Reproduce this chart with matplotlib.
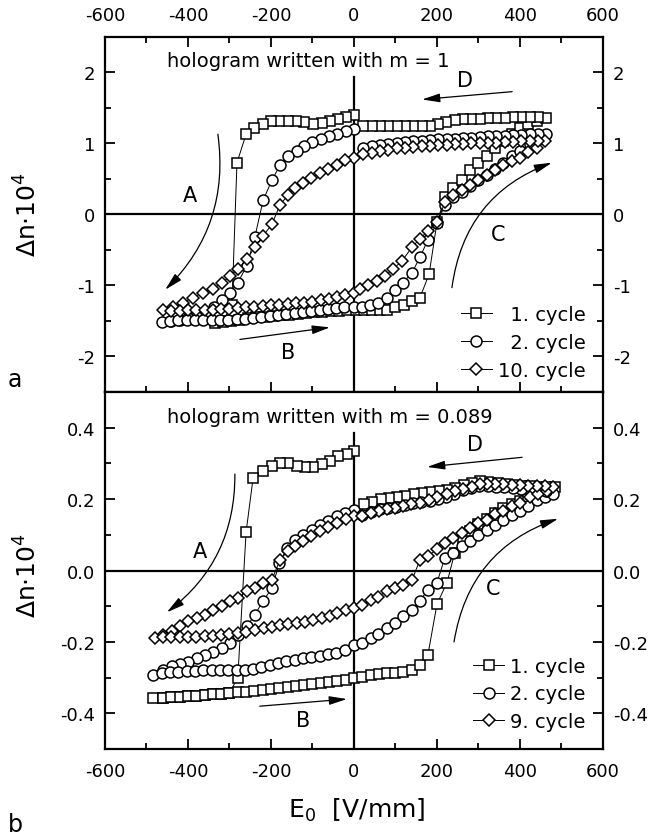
import numpy as np
import matplotlib
matplotlib.use('Agg')
from matplotlib import pyplot as plt
from matplotlib.ticker import MultipleLocator, FormatStrFormatter

plt.rcParams['font.family'] = ['DejaVu Sans']
plt.rcParams['mathtext.fontset'] = 'dejavusans'
plt.rcParams['axes.unicode_minus'] = False

# ---- panel a: hologram written with m = 1 ----
top_e1 = [0, -19, -38, -58, -77, -99, -120, -140, -160, -180, -200, -220, -240, -260, -282,
          -294, -316, -336,
          -316, -296, -276, -256, -236, -216, -196, -176, -156, -136, -116, -96, -76, -56, -36, -16,
          4, 24, 44, 62, 80, 99, 120, 140, 159,
          181, 200, 219, 239, 260, 280, 299, 320, 340, 360, 380, 400, 420, 441, 462,
          443, 423, 403, 383, 363, 343, 323, 303, 283, 263, 243, 222, 203, 183, 163, 143, 123, 103, 83, 63, 43, 22]
top_d1 = [1.40, 1.38, 1.35, 1.31, 1.29, 1.28, 1.30, 1.32, 1.32, 1.32, 1.31, 1.28, 1.22, 1.13, 0.73,
          -1.27, -1.50, -1.53,
          -1.52, -1.50, -1.48, -1.46, -1.45, -1.44, -1.43, -1.42, -1.41, -1.40, -1.39, -1.38, -1.37, -1.36, -1.36, -1.35,
          -1.35, -1.35, -1.34, -1.34, -1.34, -1.31, -1.27, -1.22, -1.17,
          -0.84, -0.11, 0.24, 0.38, 0.49, 0.62, 0.73, 0.83, 0.94, 1.04, 1.14, 1.22, 1.28, 1.32, 1.36,
          1.37, 1.37, 1.37, 1.37, 1.36, 1.36, 1.36, 1.35, 1.35, 1.34, 1.33, 1.30, 1.27, 1.25, 1.25, 1.25, 1.25, 1.24, 1.24, 1.24, 1.24, 1.24]

top_e2 = [0, -20, -40, -60, -80, -100, -120, -137, -159, -178, -198, -219, -239, -258, -280, -299, -318, -338, -360, -380, -400, -420, -440, -463,
          -443, -423, -403, -383, -363, -343, -323, -303, -283, -263, -243, -223, -203, -183, -163, -143, -123, -103, -83, -63, -43, -23,
          0, 20, 39, 58, 80, 99, 118, 140, 159, 178, 200,
          219, 239, 260, 280, 299, 320, 340, 359, 381, 400, 424, 443, 463,
          443, 423, 403, 383, 363, 343, 323, 303, 283, 263, 243, 223, 203, 183, 163, 143, 123, 103, 83, 63, 43, 22]
top_d2 = [1.20, 1.17, 1.14, 1.10, 1.06, 1.02, 0.96, 0.90, 0.83, 0.70, 0.48, 0.20, -0.32, -0.72, -0.96, -1.10, -1.21, -1.30, -1.38, -1.43, -1.46, -1.49, -1.50, -1.52,
          -1.50, -1.49, -1.49, -1.48, -1.48, -1.48, -1.48, -1.48, -1.47, -1.47, -1.46, -1.45, -1.43, -1.42, -1.40, -1.39, -1.37, -1.36, -1.34, -1.33, -1.32, -1.31,
          -1.31, -1.30, -1.28, -1.24, -1.17, -1.07, -0.96, -0.82, -0.60, -0.36, -0.12,
          0.13, 0.24, 0.31, 0.40, 0.48, 0.56, 0.64, 0.73, 0.83, 0.90, 0.99, 1.06, 1.13,
          1.14, 1.13, 1.12, 1.12, 1.11, 1.10, 1.10, 1.09, 1.08, 1.08, 1.07, 1.06, 1.06, 1.05, 1.04, 1.03, 1.02, 1.00, 0.99, 0.98, 0.96, 0.94]

top_e3 = [0, -22, -41, -62, -82, -103, -123, -141, -159, -178, -198, -219, -239, -258, -280, -299, -318, -340, -364, -388, -412, -436, -460,
          -440, -420, -400, -380, -360, -340, -320, -300, -280, -260, -240, -220, -200, -180, -160, -140, -120, -100, -80, -60, -41, -22,
          0, 14, 34, 55, 75, 94, 116, 140, 159, 178, 200,
          219, 239, 260, 280, 299, 320, 340, 359, 380, 400, 420, 441, 460,
          443, 423, 403, 383, 363, 343, 323, 303, 283, 263, 243, 223, 203, 183, 163, 143, 123, 103, 83, 63, 43, 22]
top_d3 = [0.80, 0.77, 0.70, 0.64, 0.59, 0.52, 0.45, 0.37, 0.27, 0.14, -0.14, -0.30, -0.46, -0.63, -0.77, -0.87, -0.96, -1.05, -1.10, -1.17, -1.24, -1.30, -1.35,
          -1.36, -1.36, -1.35, -1.35, -1.34, -1.34, -1.33, -1.33, -1.32, -1.31, -1.30, -1.29, -1.28, -1.27, -1.26, -1.25, -1.24, -1.23, -1.21, -1.19, -1.16, -1.14,
          -1.10, -1.05, -1.00, -0.93, -0.86, -0.77, -0.65, -0.46, -0.34, -0.23, -0.11,
          0.17, 0.27, 0.35, 0.42, 0.49, 0.55, 0.62, 0.69, 0.75, 0.80, 0.88, 0.94, 1.04,
          1.04, 1.03, 1.03, 1.02, 1.02, 1.01, 1.01, 1.00, 1.00, 0.99, 0.99, 0.98, 0.98, 0.97, 0.96, 0.95, 0.94, 0.93, 0.91, 0.89, 0.87, 0.85]

top_labels = ['\u20071. cycle', '\u20072. cycle', '10. cycle']

# ---- panel b: hologram written with m = 0.089 ----
bot_e1 = [0, -17, -38, -58, -77, -99, -118, -137, -159, -178, -198, -219, -243, -260, -280,
          -300, -320, -340, -360, -380, -400, -420, -440, -460, -484,
          -460, -440, -420, -400, -380, -360, -340, -320, -300, -280, -260, -240, -220, -200, -180, -160, -140, -120, -100, -80, -60, -40, -20,
          0, 20, 40, 60, 80, 99, 118, 140, 159, 178, 200, 224, 243, 262,
          280, 300, 320, 340, 360, 380, 400, 420, 440, 460, 484,
          464, 444, 424, 404, 384, 364, 344, 324, 304, 284, 264, 244, 224, 204, 184, 164, 144, 124, 104, 84, 64, 44, 24]
bot_d1 = [0.334, 0.326, 0.320, 0.308, 0.298, 0.290, 0.289, 0.294, 0.300, 0.300, 0.294, 0.280, 0.260, 0.108, -0.300,
          -0.343, -0.345, -0.347, -0.349, -0.351, -0.352, -0.354, -0.355, -0.356, -0.357,
          -0.356, -0.355, -0.354, -0.352, -0.351, -0.349, -0.347, -0.345, -0.343, -0.341, -0.339, -0.337, -0.335, -0.333, -0.330, -0.327, -0.324, -0.321, -0.318, -0.315, -0.312, -0.309, -0.306,
          -0.302, -0.297, -0.293, -0.290, -0.288, -0.286, -0.283, -0.279, -0.265, -0.237, -0.094, -0.034, 0.050, 0.090,
          0.110, 0.130, 0.145, 0.160, 0.175, 0.185, 0.195, 0.205, 0.215, 0.225, 0.235,
          0.234, 0.235, 0.236, 0.237, 0.240, 0.243, 0.246, 0.249, 0.250, 0.246, 0.240, 0.232, 0.226, 0.222, 0.219, 0.216, 0.213, 0.210, 0.207, 0.203, 0.199, 0.192, 0.185]

bot_e2 = [0, -22, -42, -63, -82, -101, -122, -142, -161, -180, -198, -219, -239, -258, -280, -299, -318, -340, -359, -378, -400, -420, -439, -460, -484,
          -463, -443, -423, -403, -383, -363, -343, -323, -303, -283, -263, -243, -223, -203, -183, -163, -143, -123, -103, -83, -63, -43, -22,
          0, 19, 40, 58, 80, 99, 118, 140, 159, 178, 200,
          219, 239, 260, 280, 299, 320, 340, 359, 380, 400, 419, 441, 460, 480,
          462, 442, 422, 402, 382, 362, 342, 322, 302, 282, 262, 242, 222, 202, 182, 162, 142, 122, 102, 82, 62, 40, 19]
bot_d2 = [0.170, 0.162, 0.152, 0.140, 0.127, 0.114, 0.100, 0.086, 0.064, 0.020, -0.050, -0.085, -0.124, -0.156, -0.180, -0.204, -0.218, -0.228, -0.237, -0.246, -0.255, -0.262, -0.268, -0.280, -0.293,
          -0.288, -0.285, -0.283, -0.282, -0.281, -0.280, -0.280, -0.280, -0.280, -0.280, -0.279, -0.276, -0.270, -0.264, -0.258, -0.254, -0.250, -0.246, -0.243, -0.239, -0.235, -0.230, -0.222,
          -0.210, -0.202, -0.188, -0.177, -0.162, -0.148, -0.128, -0.110, -0.085, -0.054, -0.034,
          0.036, 0.050, 0.070, 0.083, 0.100, 0.114, 0.128, 0.142, 0.155, 0.168, 0.180, 0.197, 0.205, 0.213,
          0.222, 0.225, 0.227, 0.229, 0.231, 0.233, 0.235, 0.236, 0.236, 0.232, 0.225, 0.215, 0.207, 0.200, 0.196, 0.192, 0.188, 0.184, 0.179, 0.175, 0.171, 0.163, 0.155]

bot_e3 = [0, -20, -41, -62, -82, -103, -123, -141, -159, -178, -198, -219, -239, -258, -280, -299, -318, -340, -359, -378, -400, -419, -439, -460, -480,
          -460, -440, -420, -400, -380, -360, -340, -320, -300, -280, -260, -239, -218, -198, -178, -158, -138, -118, -98, -77, -58, -41, -20,
          0, 19, 40, 58, 80, 99, 118, 140,
          159, 178, 200, 219, 239, 260, 280, 299, 320, 340, 359, 381, 400, 424, 443, 465, 480,
          460, 440, 420, 400, 380, 360, 340, 320, 304, 284, 263, 243, 224, 200, 180, 159, 138, 118, 99, 80, 60, 40, 19]
bot_d3 = [0.154, 0.144, 0.134, 0.122, 0.110, 0.097, 0.083, 0.069, 0.055, 0.030, -0.026, -0.035, -0.048, -0.058, -0.077, -0.086, -0.100, -0.110, -0.124, -0.134, -0.142, -0.156, -0.170, -0.180, -0.190,
          -0.187, -0.186, -0.185, -0.185, -0.185, -0.184, -0.183, -0.181, -0.178, -0.175, -0.171, -0.167, -0.162, -0.157, -0.153, -0.149, -0.146, -0.143, -0.139, -0.134, -0.128, -0.120, -0.112,
          -0.104, -0.097, -0.083, -0.073, -0.058, -0.050, -0.040, -0.026,
          0.030, 0.040, 0.060, 0.077, 0.092, 0.106, 0.120, 0.134, 0.142, 0.157, 0.168, 0.180, 0.190, 0.205, 0.213, 0.224, 0.233,
          0.236, 0.237, 0.238, 0.239, 0.240, 0.241, 0.242, 0.242, 0.242, 0.235, 0.228, 0.224, 0.213, 0.205, 0.197, 0.190, 0.186, 0.182, 0.176, 0.171, 0.166, 0.160, 0.154]

bot_labels = ['1. cycle', '2. cycle', '9. cycle']

markers = ['s', 'o', 'D']
msizes = [7.0, 7.9, 5.7]


def arrow(ax, start, end, rad=0.0):
    ax.annotate('', xy=end, xytext=start,
                arrowprops=dict(arrowstyle='-|>,head_length=0.9,head_width=0.22',
                                connectionstyle='arc3,rad=%s' % rad,
                                color='black', lw=0.9, shrinkA=0, shrinkB=0,
                                mutation_scale=12))


def setup(ax, ylim, ymajor, yminor):
    ax.set_xlim(-600, 600)
    ax.set_ylim(*ylim)
    ax.xaxis.set_major_locator(MultipleLocator(200))
    ax.xaxis.set_minor_locator(MultipleLocator(100))
    ax.yaxis.set_major_locator(MultipleLocator(ymajor))
    ax.yaxis.set_minor_locator(MultipleLocator(yminor))
    ax.tick_params(which='both', direction='in', right=True, labelright=True,
                   labelsize=13, width=1.3, pad=7)
    ax.tick_params(which='major', length=7)
    ax.tick_params(which='minor', length=4)
    for s in ax.spines.values():
        s.set_linewidth(1.6)
    ax.axhline(0, color='black', lw=1.6, zorder=1)
    ax.axvline(0, ymax=0.886, color='black', lw=1.6, zorder=1)


fig = plt.figure(figsize=(6.55, 8.37), dpi=100)
ax1 = fig.add_axes([0.1603, 0.5305, 0.7603, 0.4241])
ax2 = fig.add_axes([0.1603, 0.1039, 0.7603, 0.4266])

# panel a
setup(ax1, (-2.5, 2.5), 1, 0.5)
ax1.tick_params(which='both', top=True, labeltop=True, bottom=True, labelbottom=False)
ax1.tick_params(axis='x', pad=9)
for e, d, m, ms, lab in zip([top_e1, top_e2, top_e3], [top_d1, top_d2, top_d3], markers, msizes, top_labels):
    ax1.plot(e, d, marker=m, ms=ms, mfc='white', mec='black', mew=1.1,
             color='black', lw=0.7, label=lab, zorder=3)
ax1.text(-450, 2.17, 'hologram written with m = 1', fontsize=14, va='center')
arrow(ax1, (-328, 1.13), (-455, -1.06), -0.25)
arrow(ax1, (-275, -1.76), (-58, -1.59))
arrow(ax1, (236, -1.03), (477, 0.73), -0.3)
arrow(ax1, (381, 1.73), (164, 1.62))
ax1.text(-395, 0.28, 'A', fontsize=15, ha='center', va='center')
ax1.text(-159, -1.94, 'B', fontsize=15, ha='center', va='center')
ax1.text(347, -0.28, 'C', fontsize=15, ha='center', va='center')
ax1.text(267, 1.90, 'D', fontsize=15, ha='center', va='center')
ax1.legend(loc='lower right', bbox_to_anchor=(0.965, 0.035), frameon=False, fontsize=14,
           handlelength=1.6, handletextpad=0.3, labelspacing=0.45,
           borderaxespad=0, borderpad=0)

# panel b
setup(ax2, (-0.5, 0.5), 0.2, 0.1)
ax2.tick_params(which='both', top=False, labeltop=False, bottom=True, labelbottom=True)
ax2.tick_params(axis='x', pad=9)
ax2.yaxis.set_major_formatter(FormatStrFormatter('%.1f'))
for e, d, m, ms, lab in zip([bot_e1, bot_e2, bot_e3], [bot_d1, bot_d2, bot_d3], markers, msizes, bot_labels):
    ax2.plot(e, d, marker=m, ms=ms, mfc='white', mec='black', mew=1.1,
             color='black', lw=0.7, label=lab, zorder=3)
ax2.text(-450, 0.43, 'hologram written with m = 0.089', fontsize=14, va='center')
arrow(ax2, (-287, 0.27), (-451, -0.117), -0.25)
arrow(ax2, (-227, -0.38), (-17, -0.36))
arrow(ax2, (241, -0.2), (492, 0.145), -0.3)
arrow(ax2, (405, 0.317), (176, 0.29))
ax2.text(-371, 0.055, 'A', fontsize=15, ha='center', va='center')
ax2.text(-123, -0.42, 'B', fontsize=15, ha='center', va='center')
ax2.text(335, -0.05, 'C', fontsize=15, ha='center', va='center')
ax2.text(292, 0.355, 'D', fontsize=15, ha='center', va='center')
ax2.legend(loc='lower right', bbox_to_anchor=(0.965, 0.05), frameon=False, fontsize=14,
           handlelength=1.6, handletextpad=0.3, labelspacing=0.45,
           borderaxespad=0, borderpad=0)

# axis labels and panel letters
fig.text(28 / 655, 0.7443, r'$\Delta$n$\cdot$10$^4$', rotation=90, ha='center', va='center', fontsize=18)
fig.text(28 / 655, 0.3130, r'$\Delta$n$\cdot$10$^4$', rotation=90, ha='center', va='center', fontsize=18)
fig.text(357 / 655, 0.032, r'E$_0$  [V/mm]', ha='center', va='center', fontsize=18)
fig.text(0.023, 0.546, 'a', ha='center', va='center', fontsize=17)
fig.text(0.023, 0.014, 'b', ha='center', va='center', fontsize=17)

fig.savefig('out.png', dpi=100)
